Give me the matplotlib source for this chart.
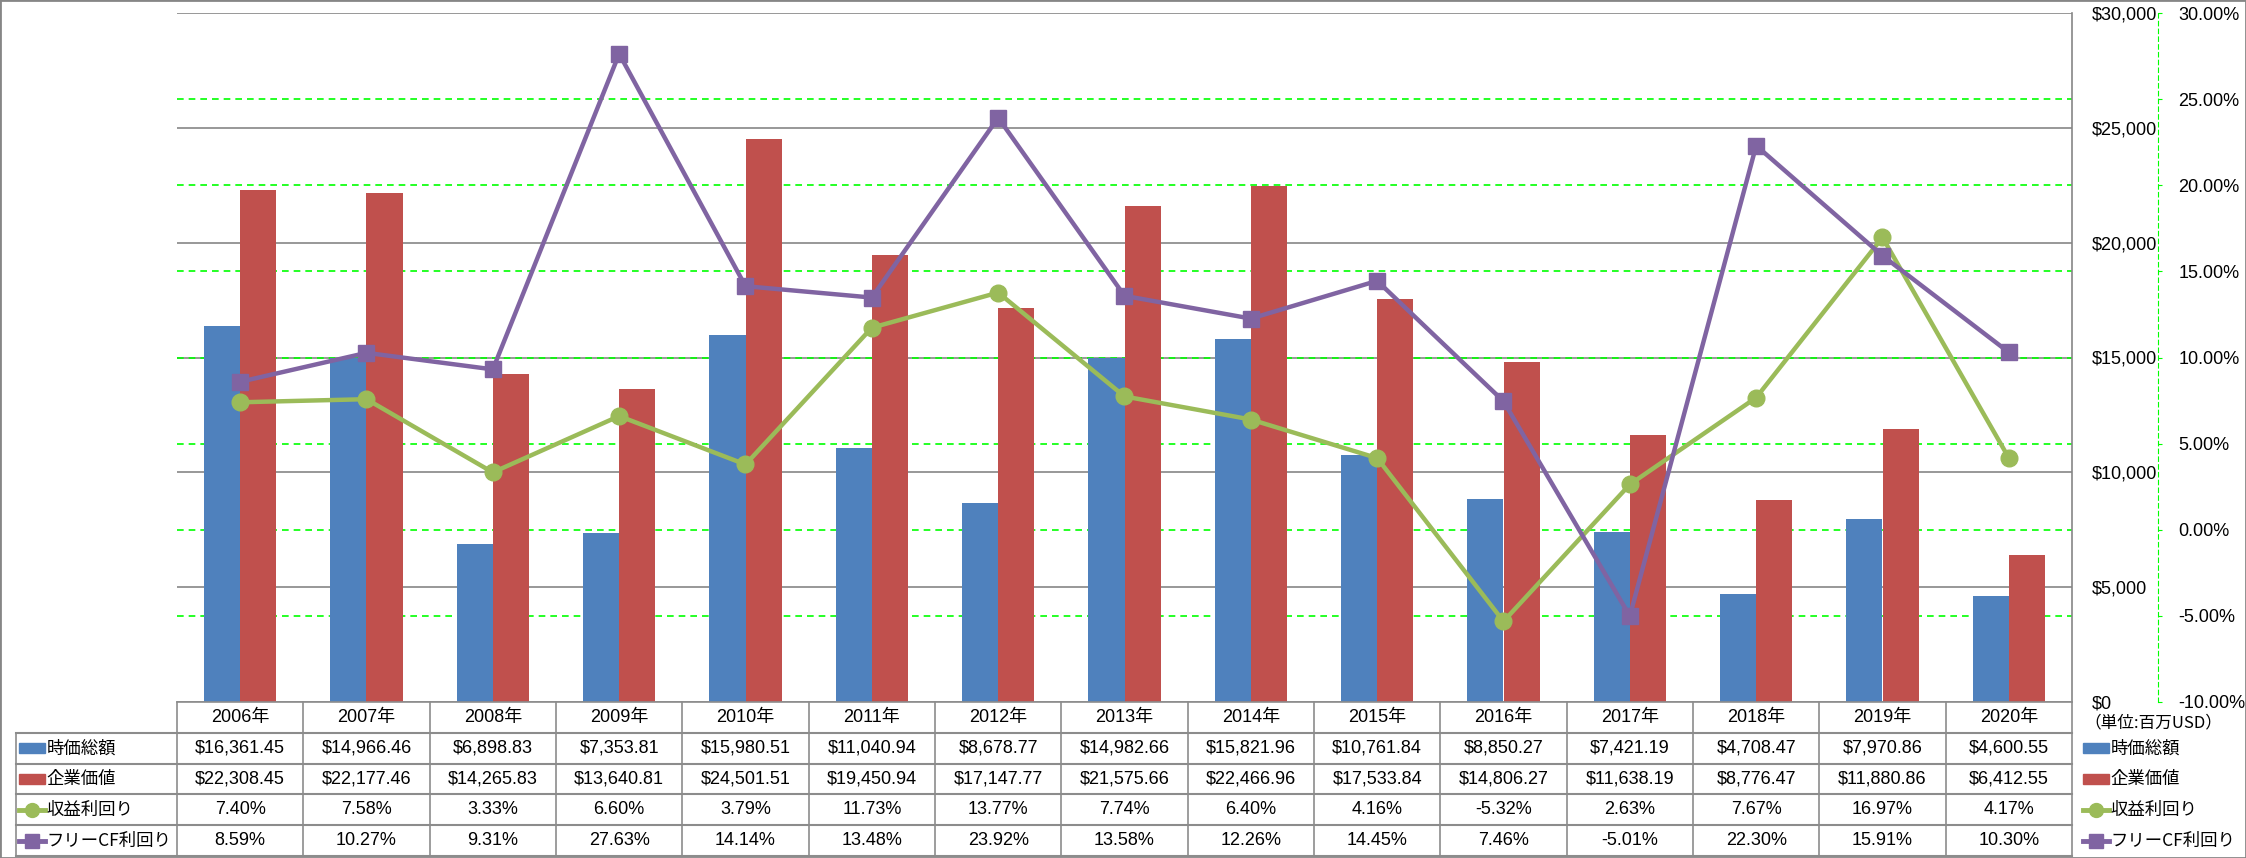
import numpy as np
import matplotlib
matplotlib.use('Agg')
import matplotlib.pyplot as plt
from matplotlib.transforms import blended_transform_factory
from matplotlib.patches import Rectangle

plt.rcParams['font.family'] = ['Liberation Sans', 'Noto Sans CJK JP', 'DejaVu Sans']

years = ['2006年', '2007年', '2008年', '2009年', '2010年', '2011年', '2012年', '2013年',
         '2014年', '2015年', '2016年', '2017年', '2018年', '2019年', '2020年']
mcap = [16361.45, 14966.46, 6898.83, 7353.81, 15980.51, 11040.94, 8678.77, 14982.66,
        15821.96, 10761.84, 8850.27, 7421.19, 4708.47, 7970.86, 4600.55]
ev = [22308.45, 22177.46, 14265.83, 13640.81, 24501.51, 19450.94, 17147.77, 21575.66,
      22466.96, 17533.84, 14806.27, 11638.19, 8776.47, 11880.86, 6412.55]
earn_yield = [7.40, 7.58, 3.33, 6.60, 3.79, 11.73, 13.77, 7.74, 6.40, 4.16, -5.32, 2.63,
              7.67, 16.97, 4.17]
fcf_yield = [8.59, 10.27, 9.31, 27.63, 14.14, 13.48, 23.92, 13.58, 12.26, 14.45, 7.46,
             -5.01, 22.30, 15.91, 10.30]
names = ['時価総額', '企業価値', '収益利回り', 'フリーCF利回り']
unit_note = '（単位:百万USD）'

BLUE, RED, GREEN, PURPLE = '#4F81BD', '#C0504D', '#9BBB59', '#8064A2'
GRAY = '#868686'
LIME = '#00FF00'
FS = 13

W, H = 2246, 858
fig = plt.figure(figsize=(W / 100, H / 100), dpi=100)
ax = fig.add_axes([177 / W, 156 / H, 1895 / W, 689 / H])
ax2 = ax.twinx()

x = np.arange(len(years))
bw = 0.286
ax.bar(x - bw / 2, mcap, bw, color=BLUE, zorder=2)
ax.bar(x + bw / 2, ev, bw, color=RED, zorder=2)
ax.set_xlim(-0.5, len(years) - 0.5)
ax.set_ylim(0, 30000)
ax.set_yticks(range(0, 30001, 5000))
ax.yaxis.set_major_formatter(lambda v, p: f'${v:,.0f}')
ax.yaxis.tick_right()
ax.tick_params(axis='y', length=0, pad=14.5, labelsize=FS)
ax.set_xticks([])
ax.grid(axis='y', color=GRAY, lw=1.2, zorder=0)
ax.set_axisbelow(True)
for s in ['top', 'left', 'bottom']:
    ax.spines[s].set_visible(False)
ax.spines['right'].set_color(GRAY)
ax.spines['right'].set_linewidth(1.2)

# percent axis
pct_ticks = np.arange(-10, 31, 5)
ax2.plot(x, earn_yield, color=GREEN, lw=3.2, marker='o', ms=12, zorder=3)
ax2.plot(x, fcf_yield, color=PURPLE, lw=3.2, marker='s', ms=11.5, zorder=4)
ax2.set_ylim(-10, 30)
ax2.set_yticks(pct_ticks)
ax2.set_yticklabels([f'{p:.2f}%' for p in pct_ticks])
for t, p in zip(ax2.get_yticklabels(), pct_ticks):
    if p < 0:
        t.set_color('#FF0000')
ax2.spines['right'].set_position(('outward', 62))
ax2.spines['right'].set_linestyle((0, (4, 3)))
ax2.spines['right'].set_color(LIME)
ax2.tick_params(axis='y', length=3, color=LIME, pad=11.5, labelsize=FS)
for s in ['top', 'left', 'bottom']:
    ax2.spines[s].set_visible(False)

# green dashed grid for the percent axis, kept behind the bars
trans = blended_transform_factory(ax.transAxes, ax2.transData)
for p in pct_ticks[1:-1]:
    ax.plot([0, 1], [p, p], transform=trans, color=LIME, lw=1.2,
            ls=(0, (4, 3)), zorder=1)

# data table
tb = fig.add_axes([177 / W, 2 / H, 1895 / W, 154 / H])
tb.set_xlim(-0.5, len(years) - 0.5)
tb.set_ylim(5, 0)
tb.axis('off')
lc = '#8C8C8C'
leg_left = -1.775
right = len(years) - 0.5
tb.plot([-0.5, right], [0, 0], color=lc, lw=1.2, clip_on=False)
for r in range(1, 6):
    tb.plot([leg_left, right], [r, r], color=lc, lw=1.5, clip_on=False)
for c in np.arange(-0.5, len(years)):
    tb.plot([c, c], [0, 5], color=lc, lw=1.2, clip_on=False)
tb.plot([leg_left, leg_left], [1, 5], color=lc, lw=1.2, clip_on=False)

rows = [[f'${v:,.2f}' for v in mcap],
        [f'${v:,.2f}' for v in ev],
        [f'{v:.2f}%' for v in earn_yield],
        [f'{v:.2f}%' for v in fcf_yield]]
for i, yr in enumerate(years):
    tb.text(i, 0.5, yr, ha='center', va='center', fontsize=FS)
    for r, row in enumerate(rows):
        tb.text(i, r + 1.5, row[i], ha='center', va='center', fontsize=FS)


def draw_key(x0, y, k):
    kw = 0.205
    if k < 2:
        tb.add_patch(Rectangle((x0, y - 0.17), kw, 0.34, color=[BLUE, RED][k],
                               clip_on=False))
    else:
        c = [GREEN, PURPLE][k - 2]
        m = ['o', 's'][k - 2]
        tb.plot([x0, x0 + kw], [y, y], color=c, lw=3.5, clip_on=False)
        tb.plot([x0 + kw / 2], [y], color=c, marker=m, ms=10, clip_on=False)
    tb.text(x0 + kw + 0.015, y, names[k], ha='left', va='center', fontsize=12.5,
            family=['Noto Sans CJK JP'], clip_on=False)


for k in range(4):
    draw_key(-1.75, k + 1.5, k)
    draw_key(14.585, k + 1.5, k)
tb.text(14.6, 0.68, unit_note, ha='left', va='center', fontsize=12,
        family=['Noto Sans CJK JP'], clip_on=False)

fig.add_artist(Rectangle((0, 0), 1, 1, transform=fig.transFigure, fill=False,
                         ec=GRAY, lw=2))

fig.savefig('out.png', dpi=100)
